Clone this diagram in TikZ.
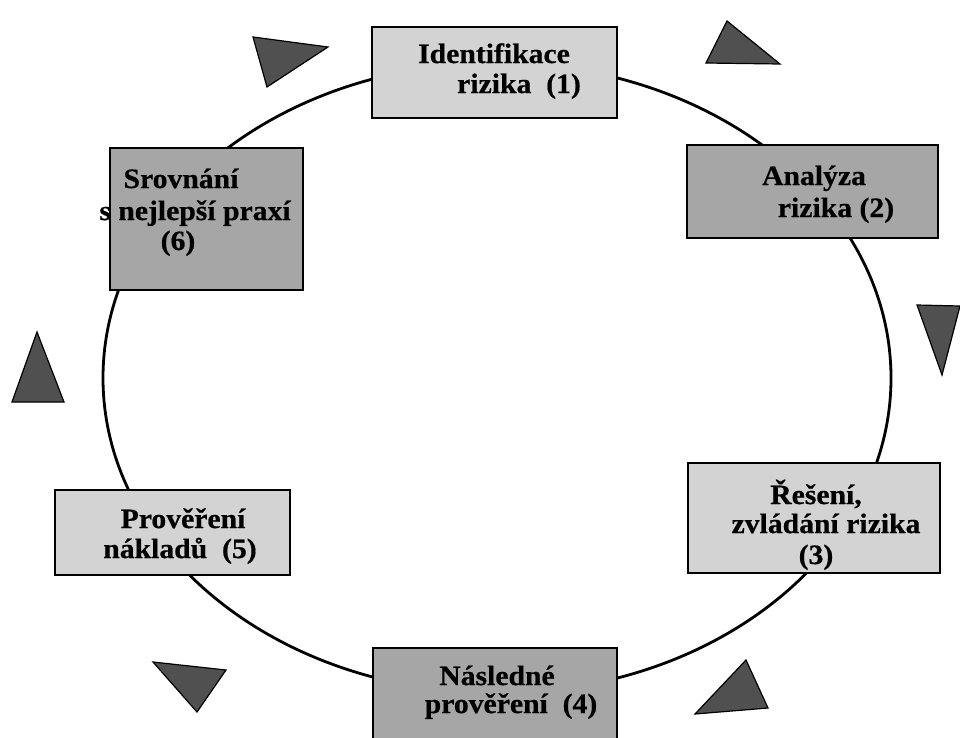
\documentclass[tikz,border=0pt]{standalone}
\usepackage{fontspec}
\setmainfont{Liberation Serif}[FakeStretch=1.06, BoldFeatures={FakeBold=0.6}]
\definecolor{boxlight}{HTML}{D3D3D3}
\definecolor{boxdark}{HTML}{A6A6A6}
\definecolor{tridark}{HTML}{505050}
\begin{document}
\begin{tikzpicture}[x=1pt,y=-1pt,
  box/.style={draw=black, line width=2.8pt, rectangle, inner sep=0pt},
  lightbox/.style={box, fill=boxlight},
  darkbox/.style={box, fill=boxdark},
  tri/.style={draw=black, line width=1.2pt, fill=tridark, line join=miter},
  txt/.style={anchor=base, inner sep=0pt, font=\fontsize{28}{30}\selectfont\bfseries},
  ring/.style={draw=black, line width=2.8pt}]
\clip (0,0) rectangle (960,737);
\fill[white] (0,0) rectangle (960,737);
% the cycle
\coordinate (c) at (497,378);
\draw[ring] (c) ellipse [x radius=394pt, y radius=315pt];
% boxes
\node[lightbox, minimum width=245pt, minimum height=91pt]  (b1) at (494.5,72.5) {};
\node[darkbox,  minimum width=251pt, minimum height=93pt]  (b2) at (812.5,191.5) {};
\node[lightbox, minimum width=252pt, minimum height=110pt] (b3) at (814,518) {};
\node[darkbox,  minimum width=244pt, minimum height=112pt] (b4) at (495,704) {};
\node[lightbox, minimum width=235pt, minimum height=85pt]  (b5) at (172.5,532.5) {};
\node[darkbox,  minimum width=193pt, minimum height=142pt] (b6) at (206.5,219) {};
% texts
\node[txt] (t11) at (494,63) {Identifikace};
\node[txt] (t12) at (519,93) {rizika\ \ (1)};
\node[txt] (t21) at (814,185) {Analýza};
\node[txt] (t22) at (836,217) {rizika (2)};
\node[txt] (t31) at (816,504) {Řešení,};
\node[txt] (t32) at (826,533) {zvládání rizika};
\node[txt] (t33) at (816,564) {(3)};
\node[txt] (t41) at (497,685) {Následné};
\node[txt] (t42) at (511,713) {prověření\ \ (4)};
\node[txt] (t51) at (183,528) {Prověření};
\node[txt] (t52) at (180,558) {nákladů\ \ (5)};
\node[txt] (t61) at (181,188) {Srovnání};
\node[txt] (t62) at (195,220) {s nejlepší praxí};
\node[txt] (t63) at (178,250) {(6)};
% direction triangles
\draw[tri] (253,37) -- (328,47) -- (267,87) -- cycle;
\draw[tri] (727,21) -- (780,64) -- (706,63) -- cycle;
\draw[tri] (917,305) -- (960,306) -- (942,375) -- cycle;
\draw[tri] (37,332) -- (64,402) -- (12,402) -- cycle;
\draw[tri] (153,662) -- (226,670) -- (197,712) -- cycle;
\draw[tri] (746,660) -- (768,708) -- (695,714) -- cycle;
\end{tikzpicture}
\end{document}
